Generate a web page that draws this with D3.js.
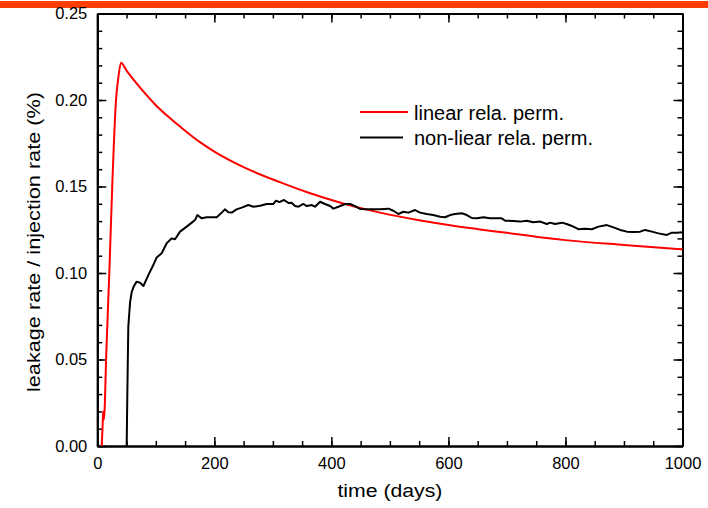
<!DOCTYPE html>
<html>
<head>
<meta charset="utf-8">
<script src="https://cdn.jsdelivr.net/npm/d3@7"></script>
<style>
  body { margin: 0; background: #fff; }
  svg { display: block; font-family: Arial, "Liberation Sans", sans-serif; }
</style>
</head>
<body>
<div id="chart"></div>
<script>
// leakage rate / injection rate (%) against time (days)
const linearPerm = [
  [7.5, 0], [9, 0.011], [10, 0.02], [11, 0.015], [12.5, 0.021], [15, 0.05],
  [20.5, 0.10], [25.5, 0.15], [32, 0.20], [36, 0.213], [40.5, 0.2216],
  [50, 0.217], [65, 0.2105], [85, 0.2025], [100, 0.197], [125, 0.1893],
  [142, 0.1845], [176, 0.1755], [200, 0.1702], [250, 0.1612], [312, 0.1525],
  [360, 0.1465], [420, 0.1402], [483, 0.1349], [550, 0.1305], [619, 0.1268],
  [654, 0.1252], [700, 0.1232], [756, 0.1207], [800, 0.119], [900, 0.1162],
  [1000, 0.1137]
]

const nonLinearPerm = [
  [50.2, 0], [51.5, 0.035], [53, 0.069], [56, 0.083], [58.8, 0.089], [62, 0.092],
  [67, 0.095], [73, 0.0944], [78.8, 0.0925], [87.2, 0.0988], [95.7, 0.1046],
  [101.5, 0.109], [110, 0.1114], [118.6, 0.1172], [127, 0.12], [132.8, 0.1195],
  [141.4, 0.1239], [152.8, 0.1268], [161.4, 0.1291], [167, 0.1306], [171, 0.1335],
  [178.5, 0.1316], [187, 0.1322], [204, 0.1322], [212.6, 0.1349], [218, 0.1368],
  [224, 0.1351], [229.7, 0.1349], [238, 0.1368], [246.8, 0.1378], [258, 0.1393],
  [266.7, 0.1383], [278, 0.1389], [289.6, 0.1399], [300.9, 0.1399], [305.5, 0.1418],
  [311, 0.141], [319, 0.1422], [326.5, 0.1405], [332, 0.1406], [338, 0.1387],
  [343.8, 0.1383], [352, 0.1399], [358, 0.1387], [366.5, 0.1393], [372, 0.1383],
  [380.7, 0.1412], [389, 0.1399], [397.8, 0.1387], [403.4, 0.1372], [412, 0.1383],
  [423.4, 0.1399], [432, 0.1399], [440.5, 0.1387], [449, 0.137], [460.5, 0.1368],
  [483, 0.1368], [497.5, 0.1372], [506, 0.136], [514.5, 0.1341], [523, 0.1354],
  [531.6, 0.1349], [543, 0.1364], [551.6, 0.1349], [563, 0.1341], [574, 0.1335],
  [585.8, 0.1325], [594, 0.1322], [603, 0.1335], [611, 0.1341], [623, 0.1345],
  [631.5, 0.1335], [640, 0.1318], [648.5, 0.1316], [660, 0.1322], [671, 0.1316],
  [691, 0.1316], [697, 0.1302], [711, 0.1301], [722.6, 0.1297], [734, 0.1302],
  [745, 0.1293], [757, 0.1297], [768, 0.1283], [774, 0.1291], [782, 0.1283],
  [794, 0.1291], [802, 0.1283], [811, 0.1272], [822, 0.1253], [833.7, 0.1256],
  [845, 0.1253], [856.5, 0.1268], [870.8, 0.1277], [882, 0.1264], [893.5, 0.1249],
  [905, 0.1239], [916, 0.1237], [927.7, 0.1239], [936, 0.1249], [947.7, 0.1239],
  [959, 0.1229], [973, 0.122], [982, 0.1233], [990.4, 0.1233], [1000, 0.1235]
]

const xTicks = [0, 200, 400, 600, 800, 1000]
const xMinorTicks = d3.range(0, 1001, 50)
const yTicks = [0, 0.05, 0.10, 0.15, 0.20, 0.25]
const yMinorTicks = d3.range(0, 26, 1).map(d => d / 100)

const legendItems = [
  { label: 'linear rela. perm.', color: '#ff0000', data: linearPerm },
  { label: 'non-liear rela. perm.', color: '#000000', data: nonLinearPerm }
]

const width = 708
const height = 508
const margin = { top: 13.5, right: 25.5, bottom: 62, left: 97.3 }

const svg = d3.select('#chart').append('svg')
  .attr('width', width)
  .attr('height', height)

// Orange strip at the very top
svg.append('rect')
  .attr('x', 0).attr('y', 1)
  .attr('width', width).attr('height', 7)
  .attr('fill', '#ff3d00')

const x = d3.scaleLinear()
  .domain([0, 1000])
  .range([margin.left, width - margin.right])

const y = d3.scaleLinear()
  .domain([0, 0.25])
  .range([height - margin.bottom, margin.top])

const x0 = x.range()[0]
const x1 = x.range()[1]
const y0 = y.range()[0]
const y1 = y.range()[1]

// Ticks point inward on every side
function styleAxis (g) {
  g.selectAll('path').attr('stroke', '#000').attr('stroke-width', 2)
  g.selectAll('line').attr('stroke', '#000').attr('stroke-width', 1.5)
  g.selectAll('text').attr('fill', '#000').style('font-size', '16.5px')
}

svg.append('g')
  .attr('transform', `translate(0,${y0})`)
  .call(d3.axisBottom(x).tickValues(xMinorTicks).tickSize(-5).tickSizeOuter(0).tickFormat(''))
  .call(styleAxis)
svg.append('g')
  .attr('transform', `translate(0,${y0})`)
  .call(d3.axisBottom(x).tickValues(xTicks).tickSize(-9).tickSizeOuter(0)
    .tickPadding(11).tickFormat(d3.format('d')))
  .call(styleAxis)

svg.append('g')
  .attr('transform', `translate(0,${y1})`)
  .call(d3.axisTop(x).tickValues(xMinorTicks).tickSize(-5).tickSizeOuter(0).tickFormat(''))
  .call(styleAxis)
svg.append('g')
  .attr('transform', `translate(0,${y1})`)
  .call(d3.axisTop(x).tickValues(xTicks).tickSize(-9).tickSizeOuter(0).tickFormat(''))
  .call(styleAxis)

svg.append('g')
  .attr('transform', `translate(${x0},0)`)
  .call(d3.axisLeft(y).tickValues(yMinorTicks).tickSize(-5).tickSizeOuter(0).tickFormat(''))
  .call(styleAxis)
svg.append('g')
  .attr('transform', `translate(${x0},0)`)
  .call(d3.axisLeft(y).tickValues(yTicks).tickSize(-9).tickSizeOuter(0)
    .tickPadding(10).tickFormat(d3.format('.2f')))
  .call(styleAxis)

svg.append('g')
  .attr('transform', `translate(${x1},0)`)
  .call(d3.axisRight(y).tickValues(yMinorTicks).tickSize(-5).tickSizeOuter(0).tickFormat(''))
  .call(styleAxis)
svg.append('g')
  .attr('transform', `translate(${x1},0)`)
  .call(d3.axisRight(y).tickValues(yTicks).tickSize(-9).tickSizeOuter(0).tickFormat(''))
  .call(styleAxis)

// Series
const smoothLine = d3.line()
  .x(d => x(d[0]))
  .y(d => y(d[1]))
  .curve(d3.curveMonotoneX)

const rawLine = d3.line()
  .x(d => x(d[0]))
  .y(d => y(d[1]))

svg.append('path')
  .datum(linearPerm)
  .attr('fill', 'none')
  .attr('stroke', legendItems[0].color)
  .attr('stroke-width', 2)
  .attr('d', smoothLine)

svg.append('path')
  .datum(nonLinearPerm)
  .attr('fill', 'none')
  .attr('stroke', legendItems[1].color)
  .attr('stroke-width', 2)
  .attr('stroke-linejoin', 'round')
  .attr('d', rawLine)

// Legend
const legend = svg.append('g')
  .attr('transform', 'translate(360,112)')

legendItems.forEach((item, i) => {
  let row = legend.append('g').attr('transform', `translate(0,${i * 25.6})`)
  row.append('line')
    .attr('x1', 0).attr('x2', i === 0 ? 48 : 43)
    .attr('y1', 0).attr('y2', 0)
    .attr('stroke', item.color)
    .attr('stroke-width', 2)
  row.append('text')
    .attr('x', 54)
    .attr('y', 7.5)
    .style('font-size', '20px')
    .attr('fill', '#000')
    .text(item.label)
})

// Axis titles
svg.append('text')
  .attr('x', (x0 + x1) / 2)
  .attr('y', 497)
  .attr('text-anchor', 'middle')
  .style('font-size', '18px')
  .attr('textLength', 105)
  .attr('lengthAdjust', 'spacingAndGlyphs')
  .text('time (days)')

svg.append('text')
  .attr('transform', 'translate(40,242) rotate(-90)')
  .attr('text-anchor', 'middle')
  .style('font-size', '18px')
  .attr('textLength', 300)
  .attr('lengthAdjust', 'spacingAndGlyphs')
  .text('leakage rate / injection rate (%)')
</script>
</body>
</html>
